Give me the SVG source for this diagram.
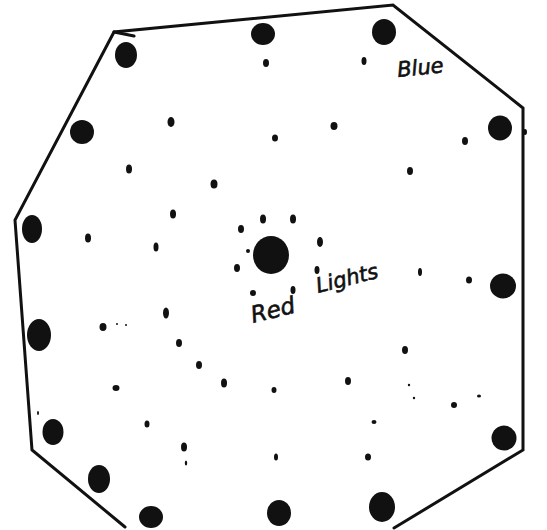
<svg xmlns="http://www.w3.org/2000/svg" width="547" height="530" viewBox="0 0 547 530">
<style>
.outline{fill:none;stroke:#111;stroke-width:3;stroke-linejoin:miter;stroke-linecap:round}
.big{fill:#111}
.sm{fill:#111}
.hand{font-family:"DejaVu Sans","Liberation Sans",sans-serif;font-style:italic;fill:#111;stroke:#111;stroke-width:0.6}
</style>
<rect width="547" height="530" fill="#fff"/>
<g id="outline">
<path class="outline" d="M125,527 L32,450 L15,220 L114,32 L393,5 L523,108 L523,450 L394,528"/>
<path class="outline" d="M114,32 L134,36" stroke-width="2"/>
</g>
<g id="blue-lights">
<ellipse class="big" cx="126" cy="55" rx="11" ry="13"/>
<ellipse class="big" cx="82" cy="132" rx="12" ry="12"/>
<ellipse class="big" cx="32" cy="229" rx="10" ry="14"/>
<ellipse class="big" cx="263" cy="34" rx="12" ry="11"/>
<ellipse class="big" cx="384" cy="32" rx="12" ry="13"/>
<ellipse class="big" cx="500" cy="128" rx="12" ry="12.5"/>
<ellipse class="big" cx="503" cy="286" rx="13" ry="12.5"/>
<ellipse class="big" cx="504" cy="438" rx="12.5" ry="12.5" transform="rotate(-30 504 438)"/>
<ellipse class="big" cx="382" cy="507" rx="13" ry="15"/>
<ellipse class="big" cx="279" cy="513" rx="12" ry="13"/>
<ellipse class="big" cx="39" cy="335" rx="12" ry="16"/>
<ellipse class="big" cx="53" cy="432" rx="10.5" ry="13"/>
<ellipse class="big" cx="99" cy="479" rx="11" ry="14"/>
<ellipse class="big" cx="151" cy="517" rx="12" ry="11"/>
</g>
<g id="red-center">
<ellipse class="big" cx="271" cy="255" rx="18" ry="19"/>
</g>
<g id="red-lights">
<ellipse class="sm" cx="266" cy="63" rx="3" ry="4"/>
<ellipse class="sm" cx="364" cy="61" rx="2.5" ry="4"/>
<ellipse class="sm" cx="171" cy="122" rx="3.5" ry="5"/>
<ellipse class="sm" cx="129" cy="169" rx="3" ry="4.5"/>
<ellipse class="sm" cx="214" cy="184" rx="3.5" ry="4.5"/>
<ellipse class="sm" cx="173" cy="214" rx="3" ry="4.5"/>
<ellipse class="sm" cx="88" cy="238" rx="3" ry="4.5"/>
<ellipse class="sm" cx="156" cy="247" rx="2.5" ry="4.5"/>
<ellipse class="sm" cx="275" cy="138" rx="3" ry="3.5"/>
<ellipse class="sm" cx="334" cy="126" rx="3.5" ry="4"/>
<ellipse class="sm" cx="465" cy="141" rx="3" ry="4"/>
<ellipse class="sm" cx="410" cy="171" rx="3" ry="4"/>
<ellipse class="sm" cx="263" cy="219" rx="3" ry="4.5"/>
<ellipse class="sm" cx="293" cy="219" rx="3" ry="4.5"/>
<ellipse class="sm" cx="241" cy="229" rx="3" ry="4"/>
<ellipse class="sm" cx="320" cy="242" rx="3" ry="5"/>
<ellipse class="sm" cx="248" cy="251" rx="2" ry="2"/>
<ellipse class="sm" cx="237" cy="268" rx="3" ry="4"/>
<ellipse class="sm" cx="317" cy="270" rx="2.5" ry="4"/>
<ellipse class="sm" cx="253" cy="293" rx="3" ry="3"/>
<ellipse class="sm" cx="293" cy="290" rx="2.5" ry="4"/>
<ellipse class="sm" cx="420" cy="272" rx="2" ry="4"/>
<ellipse class="sm" cx="469" cy="280" rx="3" ry="3.5"/>
<ellipse class="sm" cx="166" cy="313" rx="3" ry="5.5"/>
<ellipse class="sm" cx="103" cy="327" rx="3.5" ry="4"/>
<ellipse class="sm" cx="117" cy="324" rx="1" ry="1"/>
<ellipse class="sm" cx="126" cy="325" rx="1" ry="1"/>
<ellipse class="sm" cx="179" cy="343" rx="3" ry="4"/>
<ellipse class="sm" cx="199" cy="365" rx="3" ry="4"/>
<ellipse class="sm" cx="224" cy="383" rx="3" ry="4.5"/>
<ellipse class="sm" cx="116" cy="388" rx="3.5" ry="3"/>
<ellipse class="sm" cx="274" cy="390" rx="2.5" ry="3"/>
<ellipse class="sm" cx="405" cy="350" rx="3" ry="4"/>
<ellipse class="sm" cx="348" cy="381" rx="3" ry="4"/>
<ellipse class="sm" cx="409" cy="385" rx="1.2" ry="1.2"/>
<ellipse class="sm" cx="414" cy="398" rx="1.2" ry="1.2"/>
<ellipse class="sm" cx="454" cy="405" rx="3" ry="3"/>
<ellipse class="sm" cx="479" cy="396" rx="2" ry="1.5"/>
<ellipse class="sm" cx="147" cy="424" rx="2.5" ry="3.5"/>
<ellipse class="sm" cx="374" cy="422" rx="2.5" ry="2"/>
<ellipse class="sm" cx="184" cy="447" rx="3" ry="4.5"/>
<ellipse class="sm" cx="186" cy="463" rx="1.2" ry="2.5"/>
<ellipse class="sm" cx="276" cy="457" rx="2" ry="3.5"/>
<ellipse class="sm" cx="368" cy="457" rx="3" ry="3.5"/>
<ellipse class="sm" cx="525" cy="132" rx="2" ry="3"/>
<ellipse class="sm" cx="38" cy="413" rx="1" ry="2"/>
</g>
<g id="labels">
<text class="hand" x="398" y="77" font-size="21" transform="rotate(-6 398 77)">Blue</text>
<text class="hand" x="253" y="323" font-size="23" transform="rotate(-14 253 323)">Red</text>
<text class="hand" x="318" y="293" font-size="21" transform="rotate(-14 318 293)">Lights</text>
</g>
</svg>
